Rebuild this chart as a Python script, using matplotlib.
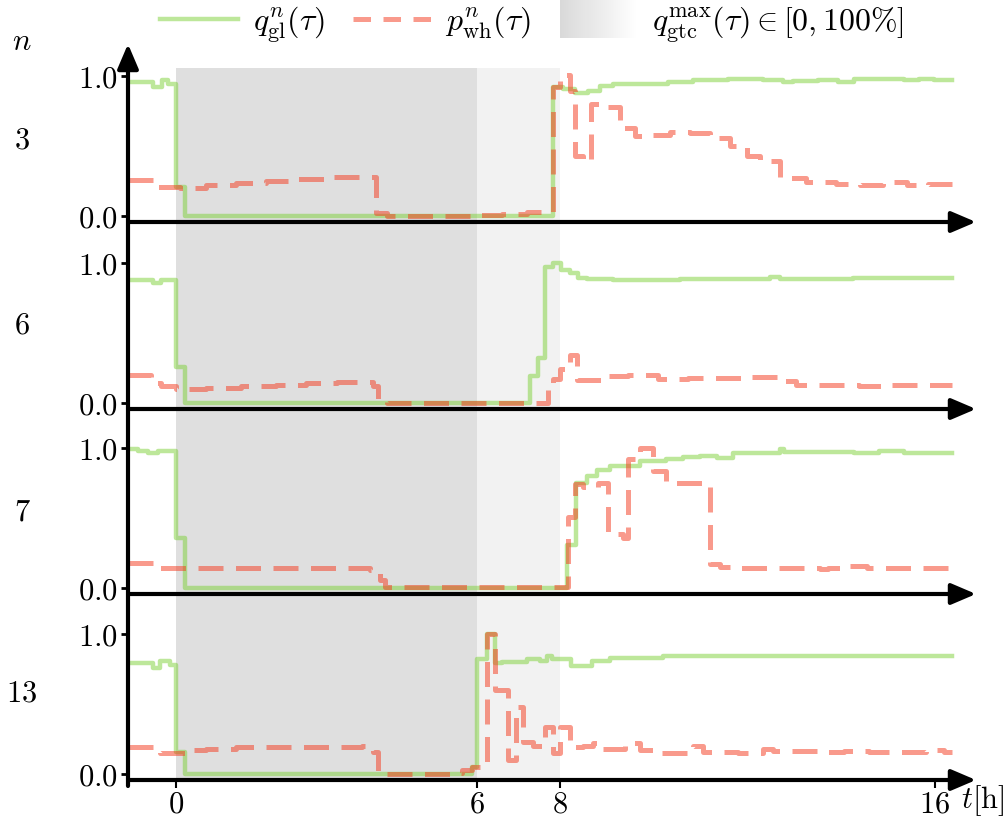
import matplotlib
matplotlib.use("Agg")
import matplotlib.pyplot as plt
from matplotlib.patches import Rectangle, FancyArrowPatch
from matplotlib.lines import Line2D
from matplotlib.legend_handler import HandlerBase

plt.rcParams['mathtext.fontset'] = 'cm'
plt.rcParams['font.family'] = 'serif'
plt.rcParams['font.serif'] = ['DejaVu Serif']

# x runs in plot steps, tick labels are hours
tick_pos = [0, 6, 7.65, 15.12]
tick_lab = ['$0$', '$6$', '$8$', '$16$']
gtc_full = (0, 6)
gtc_ramp = (6, 7.65)

nodes = ['3', '6', '7', '13']

# n = 3
t_q3 = [-0.96, -0.46, -0.28, -0.15, 0.0, 0.18, 7.52, 7.72, 7.95, 8.2, 8.45, 8.7, 9.3, 9.8, 10.3, 11.0,
        11.7, 12.1, 12.3, 12.8, 13.2, 13.5, 14.0, 14.5, 14.8, 15.1, 15.46]
q3 = [0.96, 0.92, 0.97, 0.94, 0.21, 0.0, 0.92, 0.905, 0.875, 0.895, 0.925, 0.94, 0.945, 0.96, 0.97, 0.975,
      0.97, 0.955, 0.965, 0.97, 0.96, 0.975, 0.98, 0.97, 0.98, 0.97, 0.97]
t_p3 = [-0.96, -0.38, 0.08, 0.6, 1.2, 1.8, 2.4, 3.0, 3.6, 3.98, 4.2, 6.0, 6.5, 7.0, 7.3, 7.52, 7.65, 7.85,
        7.95, 8.1, 8.26, 8.55, 8.84, 9.14, 9.5, 9.84, 10.24, 10.64, 11.04, 11.37, 11.63, 12.03, 12.56,
        13.16, 13.63, 14.09, 14.56, 14.98, 15.46]
p3 = [0.26, 0.21, 0.2, 0.22, 0.235, 0.25, 0.265, 0.275, 0.28, 0.02, 0.0, 0.005, 0.015, 0.025, 0.03, 0.92,
      1.01, 0.89, 0.43, 0.39, 0.80, 0.78, 0.63, 0.57, 0.58, 0.60, 0.59, 0.56, 0.50, 0.43, 0.39, 0.27, 0.24,
      0.23, 0.22, 0.24, 0.22, 0.23, 0.23]

# n = 6
t_q6 = [-0.96, -0.45, -0.3, 0.0, 0.18, 7.05, 7.22, 7.35, 7.52, 7.68, 7.85, 8.01, 8.18, 8.71, 10.04,
        11.83, 12.03, 12.16, 13.49, 15.46]
q6 = [0.88, 0.86, 0.88, 0.26, 0.0, 0.19, 0.32, 0.97, 1.0, 0.95, 0.93, 0.89, 0.885, 0.88, 0.885,
      0.9, 0.885, 0.885, 0.89, 0.89]
t_p6 = [-0.96, -0.5, -0.3, 0.0, 0.6, 1.3, 2.0, 2.6, 3.2, 3.93, 4.03, 4.2, 7.41, 7.52, 7.65, 7.85, 8.0,
        8.57, 9.0, 9.6, 10.2, 10.8, 11.4, 11.97, 12.36, 13.0, 13.6, 14.2, 14.8, 15.46]
p6 = [0.2, 0.145, 0.12, 0.1, 0.11, 0.12, 0.13, 0.145, 0.15, 0.12, 0.03, 0.0, 0.1, 0.17, 0.24, 0.34,
      0.165, 0.19, 0.2, 0.17, 0.175, 0.18, 0.185, 0.16, 0.125, 0.13, 0.12, 0.125, 0.125, 0.125]

# n = 7
t_q7 = [-0.96, -0.75, -0.55, -0.35, 0.0, 0.18, 7.8, 7.98, 8.18, 8.38, 8.65, 9.24, 9.77, 10.1, 10.44,
        10.77, 11.1, 12.03, 12.12, 12.5, 13.5, 14.0, 14.5, 15.46]
q7 = [0.995, 0.98, 0.965, 0.975, 0.355, 0.0, 0.31, 0.75, 0.80, 0.84, 0.87, 0.905, 0.92, 0.935, 0.94,
      0.93, 0.965, 0.99, 0.97, 0.97, 0.965, 0.975, 0.965, 0.965]
t_p7 = [-0.96, -0.32, 0.5, 3.86, 4.06, 4.16, 7.82, 7.95, 8.1, 8.4, 8.6, 8.9, 9.0, 9.24, 9.5, 9.77,
        10.64, 10.84, 11.04, 12.83, 13.0, 13.36, 13.76, 15.46]
p7 = [0.18, 0.145, 0.14, 0.13, 0.06, 0.005, 0.51, 0.74, 0.72, 0.75, 0.385, 0.36, 0.92, 1.0, 0.835, 0.75,
      0.17, 0.15, 0.145, 0.135, 0.145, 0.155, 0.145, 0.145]

# n = 13
t_q13 = [-0.96, -0.46, -0.32, -0.12, 0.0, 0.18, 5.89, 6.0, 6.2, 6.35, 6.5, 7.0, 7.25, 7.4, 7.5, 7.87,
         8.29, 8.65, 9.7, 15.46]
q13 = [0.79, 0.76, 0.81, 0.78, 0.16, 0.0, 0.05, 0.82, 1.0, 0.79, 0.8, 0.82, 0.81, 0.84, 0.82, 0.77,
       0.81, 0.83, 0.84, 0.84]
t_p13 = [-0.96, -0.32, 0.2, 0.6, 1.2, 3.7, 3.93, 4.03, 4.2, 5.5, 5.7, 5.9, 6.05, 6.19, 6.35, 6.62, 6.77,
         6.92, 7.12, 7.35, 7.52, 7.65, 7.85, 8.1, 8.3, 8.4, 8.95, 9.24, 9.65, 10.3, 10.5, 11.2, 11.7,
         11.9, 12.87, 13.3, 13.8, 14.94, 15.3, 15.46]
p13 = [0.19, 0.15, 0.17, 0.18, 0.19, 0.2, 0.16, 0.02, 0.0, 0.01, 0.03, 0.05, 0.08, 1.0, 0.6, 0.1, 0.48,
       0.23, 0.2, 0.335, 0.15, 0.335, 0.19, 0.2, 0.22, 0.18, 0.22, 0.17, 0.15, 0.2, 0.16, 0.15, 0.175,
       0.165, 0.155, 0.165, 0.155, 0.17, 0.155, 0.155]

t_q = [t_q3, t_q6, t_q7, t_q13]
q_gl = [q3, q6, q7, q13]
t_p = [t_p3, t_p6, t_p7, t_p13]
p_wh = [p3, p6, p7, p13]

green = '#7dd137'
red = '#f5371a'

W, H = 1006, 825
fig = plt.figure(figsize=(W / 100, H / 100), dpi=100)

bottoms = [222, 409, 594, 780]
label_y = [140, 325, 512, 693]
ax_h = 188
xlim = (-0.956, 15.92)
ylim = (-0.043, 1.3)
arrow = '-|>,head_length=0.75,head_width=0.32'
fs = 22

for i in range(4):
    ax = fig.add_axes([128 / W, 1 - bottoms[i] / H, (975 - 128) / W, ax_h / H])
    ax.patch.set_visible(False)
    ax.set_xlim(*xlim)
    ax.set_ylim(*ylim)
    ytop = 1.0 if i > 0 else (1.057 - ylim[0]) / (ylim[1] - ylim[0])
    ax.axvspan(*gtc_full, ymax=ytop, color='#dfdfdf', lw=0, zorder=0)
    ax.axvspan(*gtc_ramp, ymax=ytop, color='#f2f2f2', lw=0, zorder=0)
    ax.plot(t_q[i], q_gl[i], drawstyle='steps-post', color=green, alpha=0.5, lw=3.2, zorder=2)
    ax.plot(t_p[i], p_wh[i], drawstyle='steps-post', color=red, alpha=0.5, lw=3.6,
            dashes=(5, 2.5), zorder=3)
    for s in ax.spines.values():
        s.set_visible(False)
    ax.set_yticks([0, 1])
    ax.set_yticklabels(['$0.0$', '$1.0$'])
    ax.tick_params(axis='y', length=5, width=2, pad=2, labelsize=fs)
    if i < 3:
        ax.set_xticks([])
    else:
        ax.set_xticks(tick_pos)
        ax.set_xticklabels(tick_lab)
        ax.tick_params(axis='x', length=6, width=1.5, pad=0, labelsize=fs)
    fig.add_artist(FancyArrowPatch((128 / W, 1 - bottoms[i] / H), (976 / W, 1 - bottoms[i] / H),
                                   transform=fig.transFigure, arrowstyle=arrow, mutation_scale=20,
                                   lw=3, color='k', shrinkA=0, shrinkB=0, zorder=5))
    fig.text(22 / W, 1 - label_y[i] / H, '$' + nodes[i] + '$', ha='center', va='center', fontsize=fs)

fig.add_artist(FancyArrowPatch((128 / W, 1 - 786 / H), (128 / W, 1 - 44 / H), transform=fig.transFigure,
                               arrowstyle=arrow, mutation_scale=20, lw=3, color='k',
                               shrinkA=0, shrinkB=0, zorder=5))
fig.text(22 / W, 1 - 42 / H, '$n$', ha='center', va='center', fontsize=fs)
fig.text(961 / W, 1 - 801 / H, r'$t[\mathrm{h}]$', ha='left', va='center', fontsize=fs)


class GradHandler(HandlerBase):
    def create_artists(self, legend, orig_handle, xd, yd, w, h, fs, trans):
        n = 40
        out = []
        for k in range(n):
            g = 0.85 + 0.15 * k / (n - 1)
            out.append(Rectangle((-xd + w * k / n, -yd - 0.35 * h), w / n * 1.05, h * 1.7,
                                 facecolor=(g, g, g), edgecolor='none', transform=trans))
        return out


handles = [Line2D([], [], color=green, alpha=0.5, lw=3.2),
           Line2D([], [], color=red, alpha=0.5, lw=3.6, dashes=(3.5, 2.5)),
           Rectangle((0, 0), 1, 1)]
labels = [r'$q^{n}_{\mathrm{gl}}(\tau)$', r'$p^{n}_{\mathrm{wh}}(\tau)$',
          r'$q^{\max}_{\mathrm{gtc}}(\tau) \in [0, 100\%]$']
fig.legend(handles, labels, handler_map={Rectangle: GradHandler()}, ncol=3, frameon=False,
           loc='center left', bbox_to_anchor=(160 / W, 1 - 24 / H), fontsize=23, handlelength=2.45,
           handletextpad=0.45, columnspacing=0.9, borderpad=0, borderaxespad=0)

fig.savefig('out.png', dpi=100)
